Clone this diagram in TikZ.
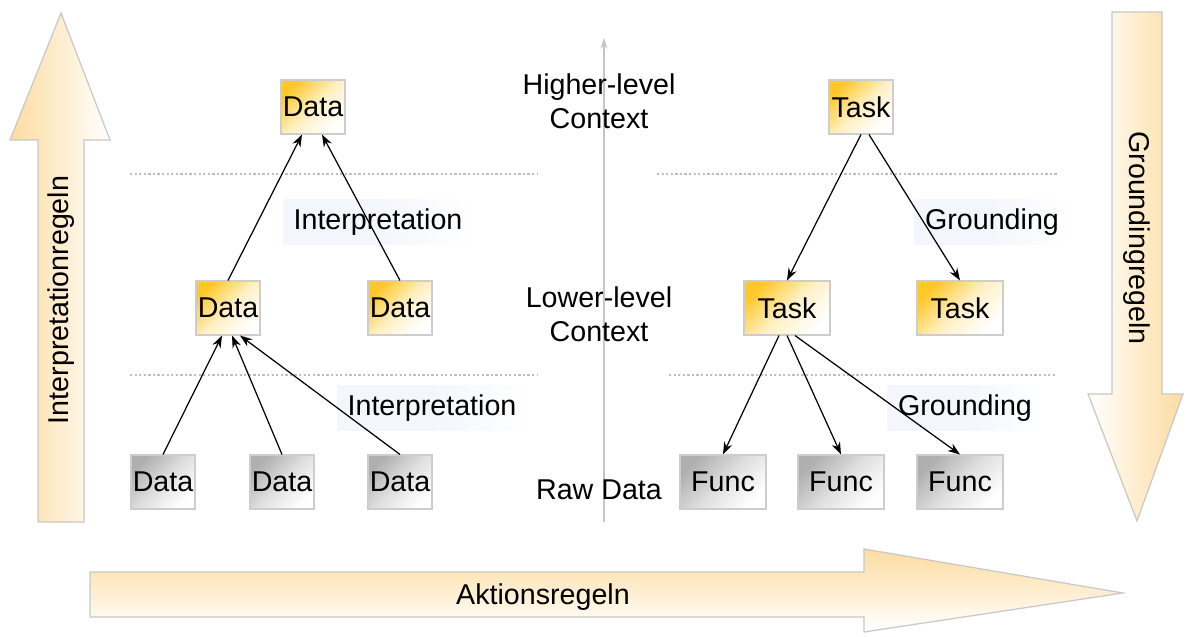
\documentclass[tikz,border=0pt]{standalone}
\usepackage{fontspec}
\setmainfont{Liberation Sans}
\usetikzlibrary{arrows.meta,calc}
\definecolor{boxorange}{RGB}{255,200,40}
\definecolor{boxgray}{RGB}{175,175,175}
\definecolor{boxedge}{RGB}{205,205,205}
\definecolor{bigorange}{RGB}{253,220,160}
\definecolor{bigedge}{RGB}{200,200,200}
\definecolor{labelblue}{RGB}{243,246,252}
\definecolor{dotgray}{RGB}{190,190,190}
\tikzset{
  txt/.style={font=\fontsize{16.3}{19.5}\selectfont, text=black},
  obox/.style={txt, draw=boxedge, line width=0.6pt, top color=boxorange, bottom color=white, middle color=boxorange!28!white, shading angle=45, minimum width=1.28cm, minimum height=1.08cm, inner sep=0pt},
  gbox/.style={txt, draw=boxedge, line width=0.6pt, top color=boxgray, bottom color=white, middle color=boxgray!40!white, shading angle=45, minimum width=1.28cm, minimum height=1.08cm, inner sep=0pt},
  wide/.style={minimum width=1.72cm},
  lbl/.style={txt, left color=labelblue, right color=white, middle color=labelblue, inner xsep=6pt, inner ysep=5pt},
  ctx/.style={txt, align=center},
  arr/.style={-{Stealth[length=7pt,width=5pt]}, line width=0.7pt, black},
  sep/.style={dotgray, line width=1.2pt, dash pattern=on 1.3pt off 1.3pt},
  big/.style={draw=bigedge, line width=0.7pt},
}
\begin{document}
\begin{tikzpicture}[x=0.02cm, y=-0.02cm]
\useasboundingbox (0,0) rectangle (1190,636);

% big arrows
\path[big, left color=bigorange, right color=white]
  (38,522) -- (38,140) -- (10,140) -- (61,13) -- (110,140) -- (84,140) -- (84,522) -- cycle;
\node[txt, rotate=90] (interpregeln) at (61,300) {Interpretationregeln};

\path[big, left color=white, right color=bigorange]
  (1112,12) -- (1162,12) -- (1162,394) -- (1183,394) -- (1137,521) -- (1088,394) -- (1112,394) -- cycle;
\node[txt, rotate=-90] (groundregeln) at (1137,238) {Groundingregeln};

\path[big, top color=bigorange, bottom color=white]
  (90,572) -- (864,572) -- (864,549) -- (1123,593) -- (864,632) -- (864,617) -- (90,617) -- cycle;
\node[txt] (aktion) at (543,597) {Aktionsregeln};

% center axis
\coordinate (axb) at (604,522);
\coordinate (axt) at (604,38);
\draw[gray!45, line width=0.8pt, -{Stealth[length=6pt,width=4pt]}] (axb) -- (axt);

% separators
\coordinate (s1a) at (130,174); \coordinate (s1b) at (538,174);
\coordinate (s2a) at (657,174); \coordinate (s2b) at (1057,174);
\coordinate (s3a) at (130,375); \coordinate (s3b) at (538,375);
\coordinate (s4a) at (669,375); \coordinate (s4b) at (1057,375);
\draw[sep] (s1a) -- (s1b);
\draw[sep] (s2a) -- (s2b);
\draw[sep] (s3a) -- (s3b);
\draw[sep] (s4a) -- (s4b);

% context labels
\node[ctx] (hl) at (599,101) {Higher-level\\Context};
\node[ctx] (ll) at (599,314) {Lower-level\\Context};
\node[txt] (raw) at (599,490) {Raw Data};

% connector labels
\node[lbl] (interp1) at (378,222) {Interpretation};
\node[lbl] (interp2) at (432,408) {Interpretation};
\node[lbl] (ground1) at (992,222) {Grounding};
\node[lbl] (ground2) at (965,408) {Grounding};

% left tree
\node[obox] (dtop) at (313,107) {Data};
\node[obox] (dm1) at (228,308) {Data};
\node[obox] (dm2) at (400,308) {Data};
\node[gbox] (db1) at (163,482) {Data};
\node[gbox] (db2) at (282,482) {Data};
\node[gbox] (db3) at (400,482) {Data};

% right tree
\node[obox] (ttop) at (861,107) {Task};
\node[obox, wide] (tm1) at (787,308) {Task};
\node[obox, wide] (tm2) at (960,308) {Task};
\node[gbox, wide] (f1) at (723,482) {Func};
\node[gbox, wide] (f2) at (841,482) {Func};
\node[gbox, wide] (f3) at (960,482) {Func};

% left connectors
\draw[arr] (db1.north) -- ($(dm1.south)+(-6,0)$);
\draw[arr] (db2.north) -- ($(dm1.south)+(4,0)$);
\draw[arr] (db3.north) -- ($(dm1.south)+(12,0)$);
\draw[arr] (dm1.north) -- ($(dtop.south)+(-11,0)$);
\draw[arr] (dm2.north) -- ($(dtop.south)+(9,0)$);

% right connectors
\draw[arr] ($(ttop.south)+(0,0)$) -- (tm1.north);
\draw[arr] ($(ttop.south)+(8,0)$) -- (tm2.north);
\draw[arr] ($(tm1.south)+(-8,0)$) -- (f1.north);
\draw[arr] ($(tm1.south)+(0,0)$) -- (f2.north);
\draw[arr] ($(tm1.south)+(8,0)$) -- (f3.north);
\end{tikzpicture}
\end{document}
